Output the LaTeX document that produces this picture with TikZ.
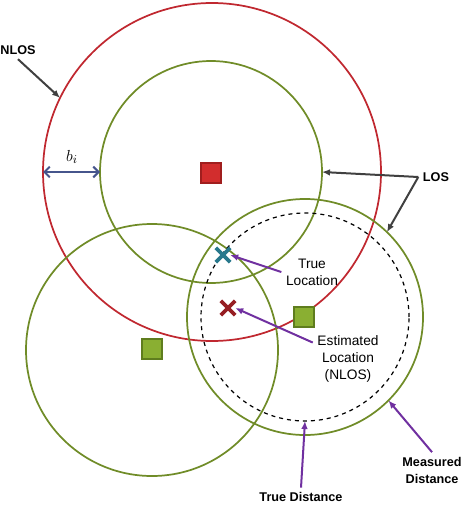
\documentclass[tikz,border=0pt]{standalone}
\usepackage{fontspec}
\setmainfont{Liberation Sans}
\usepackage{tikz}
\usetikzlibrary{positioning, arrows.meta, shapes.misc}
\definecolor{nlosred}{RGB}{192,40,48}
\definecolor{losgreen}{RGB}{112,140,40}
\definecolor{sqred}{RGB}{210,45,45}
\definecolor{sqredline}{RGB}{160,30,30}
\definecolor{sqgreen}{RGB}{138,175,50}
\definecolor{sqgreenline}{RGB}{95,125,30}
\definecolor{arrowpurple}{RGB}{112,48,160}
\definecolor{markteal}{RGB}{40,120,140}
\definecolor{markred}{RGB}{150,30,35}
\definecolor{arrowgray}{RGB}{64,64,64}
\definecolor{bislate}{RGB}{70,85,140}
\tikzset{>={Latex[length=6pt,width=5pt]}}
\tikzset{
    ring/.style={circle, draw, inner sep=0pt, outer sep=0pt, line width=1.3pt},
    anchorsq/.style={draw, line width=1.1pt, minimum size=15pt, inner sep=0pt},
    marker/.style={cross out, draw, line width=2.8pt, minimum size=8pt, inner sep=0pt},
    boldlabel/.style={font=\fontsize{9.5}{12.75}\selectfont\bfseries, align=center},
    plainlabel/.style={font=\fontsize{10.3}{12.75}\selectfont, align=center}
}

\begin{document}
\begin{tikzpicture}[x=0.75pt, y=-0.75pt]
    \useasboundingbox (0,0) rectangle (466,506);

    \node[ring, draw=nlosred, minimum size=253.5pt] (nlos) at (212,172) {};
    \node[ring, draw=losgreen, minimum size=166.5pt] (los1) at (211,172) {};
    \node[ring, draw=losgreen, minimum size=189pt] (los2) at (152,350) {};
    \node[ring, draw=losgreen, minimum size=177pt] (meas) at (305,317) {};
    \node[ring, draw=black, dashed, line width=0.9pt, minimum size=156pt] (truedist) at (305,317) {};

    \node[anchorsq, fill=sqred, draw=sqredline] (s1) at (211,173) {};
    \node[anchorsq, fill=sqgreen, draw=sqgreenline] (s2) at (152,349) {};
    \node[anchorsq, fill=sqgreen, draw=sqgreenline] (s3) at (304,317) {};

    \node[marker, draw=markteal] (tx) at (223,255) {};
    \node[marker, draw=markred] (ex) at (228,308) {};

    \node[boldlabel] (nl) at (18,50) {NLOS};
    \node[boldlabel] (los) at (436,177) {LOS};
    \node[plainlabel] (tl) at (312,272) {True\\Location};
    \node[plainlabel] (el) at (348,359) {Estimated\\Location\\(NLOS)};
    \node[boldlabel] (md) at (432,470) {Measured\\Distance};
    \node[boldlabel] (td) at (301,497) {True Distance};
    \node[font=\fontsize{13}{15}\selectfont] (bi) at (72,157) {$b_i$};

    \draw[->, arrowgray, line width=1.5pt] (nl.south) -- (nlos.154);
    \draw[->, arrowgray, line width=1.5pt] (los.west) -- (los1.east);
    \draw[->, arrowgray, line width=1.5pt] (los.west) -- (meas.46);
    \draw[{Straight Barb[length=4pt]}-{Straight Barb[length=4pt]}, bislate, line width=1.5pt] (nlos.west) -- (los1.west);
    \draw[->, arrowpurple, line width=1.5pt] (tl.west) -- (tx.east);
    \draw[->, arrowpurple, line width=1.5pt] (el.155) -- (ex.east);
    \draw[->, arrowpurple, line width=1.5pt] (md.north) -- (meas.-45);
    \draw[->, arrowpurple, line width=1.5pt] (td.north) -- (truedist.south);
\end{tikzpicture}
\end{document}
